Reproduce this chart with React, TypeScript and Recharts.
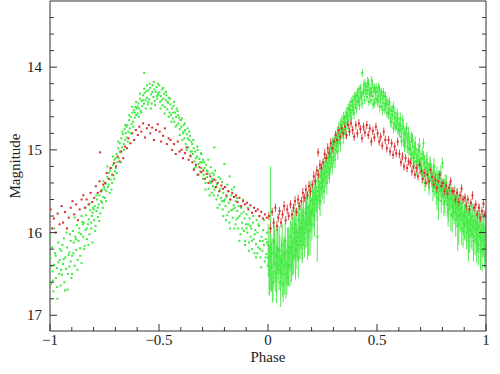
import { ScatterChart, Scatter, XAxis, YAxis, ErrorBar } from "recharts";

// tick positions
const xMajor = [-1, -0.5, 0, 0.5, 1];
const xMinor = [-0.9, -0.8, -0.7, -0.6, -0.4, -0.3, -0.2, -0.1, 0.1, 0.2, 0.3, 0.4, 0.6, 0.7, 0.8, 0.9];
const yMajor = [14, 15, 16, 17];
const yMinor = [13.4, 13.6, 13.8, 14.2, 14.4, 14.6, 14.8, 15.2, 15.4, 15.6, 15.8, 16.2, 16.4, 16.6, 16.8];

// green, phase -1..0 : [phase, mag]
const greenLeft = [
  [-0.998,16.31],[-0.995,16.62],[-0.991,16.18],[-0.988,16.47],[-0.984,16.71],[-0.981,16.39],[-0.977,16.25],[-0.973,16.55],[-0.969,16.43],[-0.966,16.8],[-0.962,16.12],[-0.958,16.5],[-0.955,16.33],[-0.952,16.64],
  [-0.948,16.22],[-0.945,16.51],[-0.941,16.38],[-0.937,16.07],[-0.934,16.6],[-0.93,16.3],[-0.926,16.44],[-0.922,16.18],[-0.919,16.69],[-0.915,16.27],[-0.911,16.41],[-0.908,16.02],[-0.905,16.35],[-0.902,16.55],
  [-0.898,16.28],[-0.895,15.98],[-0.891,16.12],[-0.887,16.4],[-0.884,16.05],[-0.88,16.21],[-0.877,15.91],[-0.873,16.33],[-0.869,16.1],[-0.866,15.95],[-0.862,16.19],[-0.858,16.02],[-0.855,16.37],[-0.852,15.87],
  [-0.848,16.05],[-0.845,15.88],[-0.841,16.16],[-0.837,15.97],[-0.834,15.79],[-0.83,16.08],[-0.826,15.9],[-0.822,15.84],[-0.819,16.02],[-0.815,15.73],[-0.811,15.95],[-0.808,15.8],[-0.805,16.12],[-0.802,15.7],
  [-0.798,15.85],[-0.795,15.68],[-0.791,15.92],[-0.787,15.74],[-0.784,15.6],[-0.78,15.81],[-0.777,15.66],[-0.773,15.55],[-0.769,15.77],[-0.766,15.62],[-0.762,15.48],[-0.758,15.7],[-0.755,15.57],[-0.752,15.45],
  [-0.748,15.58],[-0.745,15.41],[-0.741,15.5],[-0.737,15.33],[-0.734,15.45],[-0.73,15.28],[-0.726,15.52],[-0.722,15.36],[-0.719,15.22],[-0.715,15.4],[-0.711,15.18],[-0.708,15.31],[-0.705,15.12],[-0.702,15.26],
  [-0.698,15.22],[-0.695,15.05],[-0.691,15.15],[-0.687,14.98],[-0.684,15.1],[-0.68,14.92],[-0.677,15.03],[-0.673,14.86],[-0.669,14.97],[-0.666,14.81],[-0.662,14.93],[-0.658,14.75],[-0.655,14.88],[-0.652,14.8],
  [-0.648,14.85],[-0.645,14.7],[-0.641,14.78],[-0.637,14.64],[-0.634,14.74],[-0.63,14.6],[-0.626,14.69],[-0.622,14.55],[-0.619,14.66],[-0.615,14.52],[-0.611,14.61],[-0.608,14.48],[-0.605,14.58],[-0.602,14.5],
  [-0.598,14.56],[-0.595,14.44],[-0.591,14.5],[-0.587,14.38],[-0.584,14.53],[-0.58,14.41],[-0.577,14.47],[-0.573,14.34],[-0.569,14.44],[-0.566,14.31],[-0.562,14.4],[-0.558,14.29],[-0.555,14.37],[-0.552,14.45],
  [-0.548,14.28],[-0.545,14.39],[-0.541,14.25],[-0.537,14.33],[-0.534,14.44],[-0.53,14.22],[-0.526,14.36],[-0.522,14.27],[-0.519,14.41],[-0.515,14.3],[-0.511,14.24],[-0.508,14.38],[-0.505,14.32],[-0.502,14.34],[-0.568,14.07],
  [-0.498,14.3],[-0.495,14.42],[-0.491,14.35],[-0.487,14.27],[-0.484,14.46],[-0.48,14.38],[-0.477,14.32],[-0.473,14.48],[-0.469,14.4],[-0.466,14.34],[-0.462,14.51],[-0.458,14.43],[-0.455,14.37],[-0.452,14.55],
  [-0.448,14.45],[-0.445,14.58],[-0.441,14.5],[-0.437,14.62],[-0.434,14.47],[-0.43,14.66],[-0.426,14.55],[-0.422,14.6],[-0.419,14.7],[-0.415,14.53],[-0.411,14.68],[-0.408,14.61],[-0.405,14.75],[-0.402,14.64],
  [-0.398,14.72],[-0.395,14.62],[-0.391,14.8],[-0.387,14.7],[-0.384,14.86],[-0.38,14.76],[-0.377,14.93],[-0.373,14.81],[-0.369,14.74],[-0.366,14.97],[-0.362,14.88],[-0.358,14.83],[-0.355,15.02],[-0.352,14.9],
  [-0.348,14.93],[-0.345,15.05],[-0.341,14.98],[-0.337,15.14],[-0.334,15.02],[-0.33,15.2],[-0.326,15.08],[-0.322,15.0],[-0.319,15.17],[-0.315,15.11],[-0.311,15.26],[-0.308,15.04],[-0.305,15.22],[-0.302,15.15],
  [-0.298,15.12],[-0.295,15.3],[-0.291,15.22],[-0.287,15.4],[-0.284,15.18],[-0.28,15.33],[-0.277,15.26],[-0.273,15.47],[-0.269,15.29],[-0.266,15.38],[-0.262,15.21],[-0.258,15.52],[-0.255,15.35],[-0.252,15.44],
  [-0.248,15.3],[-0.245,15.48],[-0.241,15.37],[-0.237,15.6],[-0.234,15.42],[-0.23,15.55],[-0.226,15.33],[-0.222,15.66],[-0.219,15.47],[-0.215,15.58],[-0.211,15.39],[-0.208,15.72],[-0.205,15.52],[-0.202,15.62],[-0.246,14.97],
  [-0.198,15.45],[-0.195,15.68],[-0.191,15.57],[-0.187,15.79],[-0.184,15.5],[-0.18,15.64],[-0.177,15.88],[-0.173,15.6],[-0.169,15.73],[-0.166,15.48],[-0.162,15.82],[-0.158,15.67],[-0.155,15.95],[-0.152,15.7],[-0.2,15.17],[-0.176,15.32],
  [-0.148,15.62],[-0.145,15.84],[-0.141,15.74],[-0.137,15.95],[-0.134,15.68],[-0.13,15.8],[-0.126,16.02],[-0.122,15.77],[-0.119,15.88],[-0.115,15.6],[-0.111,15.98],[-0.108,15.83],[-0.105,16.1],[-0.102,15.9],
  [-0.098,15.78],[-0.095,16.0],[-0.091,15.9],[-0.087,16.12],[-0.084,15.83],[-0.08,16.05],[-0.077,15.95],[-0.073,16.2],[-0.069,15.88],[-0.066,16.08],[-0.062,16.25],[-0.058,15.97],[-0.055,16.14],[-0.052,15.85],
  [-0.048,16.0],[-0.045,16.18],[-0.041,15.92],[-0.037,16.1],[-0.034,16.3],[-0.03,16.05],[-0.026,16.22],[-0.022,15.97],[-0.019,16.15],[-0.015,16.35],[-0.011,16.08],[-0.008,16.26],[-0.005,16.12],[-0.002,16.4],
  // second pass, filling the band
  [-0.999,16.05],[-0.993,16.4],[-0.987,16.58],[-0.981,15.95],[-0.974,16.28],[-0.968,16.66],[-0.961,16.36],[-0.955,16.2],
  [-0.949,16.45],[-0.943,16.15],[-0.937,16.32],[-0.931,16.7],[-0.924,16.0],[-0.918,16.5],[-0.911,16.24],[-0.905,16.1],
  [-0.899,16.5],[-0.893,16.25],[-0.887,15.82],[-0.881,16.08],[-0.874,16.45],[-0.868,16.0],[-0.861,16.28],[-0.855,15.8],
  [-0.849,15.9],[-0.843,16.2],[-0.837,15.7],[-0.831,15.95],[-0.824,16.15],[-0.818,15.65],[-0.811,15.88],[-0.805,15.76],
  [-0.799,15.72],[-0.793,15.98],[-0.787,15.55],[-0.781,15.7],[-0.774,15.86],[-0.768,15.5],[-0.761,15.64],[-0.755,15.38],
  [-0.749,15.48],[-0.743,15.62],[-0.737,15.2],[-0.731,15.42],[-0.724,15.25],[-0.718,15.48],[-0.711,15.08],[-0.705,15.35],
  [-0.699,15.1],[-0.693,15.28],[-0.687,14.9],[-0.681,15.02],[-0.674,15.15],[-0.668,14.78],[-0.661,15.0],[-0.655,14.7],
  [-0.649,14.72],[-0.643,14.9],[-0.637,14.58],[-0.631,14.8],[-0.624,14.48],[-0.618,14.72],[-0.611,14.55],[-0.605,14.42],
  [-0.599,14.48],[-0.593,14.6],[-0.587,14.32],[-0.581,14.55],[-0.574,14.4],[-0.568,14.26],[-0.561,14.5],[-0.555,14.22],
  [-0.549,14.42],[-0.543,14.2],[-0.537,14.5],[-0.531,14.3],[-0.524,14.18],[-0.518,14.46],[-0.511,14.35],[-0.505,14.2],
  [-0.499,14.22],[-0.493,14.5],[-0.487,14.4],[-0.481,14.25],[-0.474,14.56],[-0.468,14.3],[-0.461,14.42],[-0.455,14.6],
  [-0.449,14.38],[-0.443,14.66],[-0.437,14.55],[-0.431,14.42],[-0.424,14.72],[-0.418,14.5],[-0.411,14.58],[-0.405,14.82],
  [-0.399,14.64],[-0.393,14.88],[-0.387,14.78],[-0.381,14.68],[-0.374,15.0],[-0.368,14.86],[-0.361,14.78],[-0.355,15.08],
  [-0.349,15.02],[-0.343,14.88],[-0.337,15.22],[-0.331,15.1],[-0.324,14.96],[-0.318,15.3],[-0.311,15.15],[-0.305,15.05],
  [-0.299,15.35],[-0.293,15.15],[-0.287,15.48],[-0.281,15.25],[-0.274,15.12],[-0.268,15.55],[-0.261,15.4],[-0.255,15.28],
  [-0.249,15.55],[-0.243,15.25],[-0.237,15.45],[-0.231,15.7],[-0.224,15.5],[-0.218,15.35],[-0.211,15.62],[-0.205,15.8],
  [-0.199,15.6],[-0.193,15.85],[-0.187,15.42],[-0.181,15.75],[-0.174,15.95],[-0.168,15.55],[-0.161,15.72],[-0.155,15.45],
  [-0.149,15.9],[-0.143,15.58],[-0.137,15.82],[-0.131,16.1],[-0.124,15.7],[-0.118,15.95],[-0.111,15.75],[-0.105,16.15],
  [-0.099,15.95],[-0.093,15.7],[-0.087,16.22],[-0.081,15.92],[-0.074,16.1],[-0.068,15.8],[-0.061,16.02],[-0.055,16.3],
  [-0.049,16.25],[-0.043,15.9],[-0.037,16.2],[-0.031,16.42],[-0.024,16.1],[-0.018,15.85],[-0.011,16.3],[-0.005,16.0],
];

// red, phase -1..0 : [phase, mag]
const redLeft = [
  [-0.997,15.72],[-0.99,15.95],[-0.982,15.83],[-0.974,16.0],[-0.965,15.77],[-0.956,15.9],
  [-0.947,15.68],[-0.94,15.88],[-0.931,15.75],[-0.922,15.95],[-0.914,15.82],[-0.905,15.7],
  [-0.897,15.62],[-0.889,15.78],[-0.88,15.66],[-0.872,15.85],[-0.864,15.72],[-0.855,15.6],
  [-0.847,15.55],[-0.84,15.7],[-0.832,15.6],[-0.823,15.66],[-0.814,15.52],[-0.806,15.63],
  [-0.797,15.58],[-0.79,15.44],[-0.781,15.52],[-0.773,15.38],[-0.765,15.5],[-0.756,15.42],[-0.77,15.03],
  [-0.747,15.4],[-0.74,15.28],[-0.731,15.35],[-0.723,15.22],[-0.714,15.3],[-0.706,15.16],
  [-0.697,15.2],[-0.69,15.08],[-0.681,15.14],[-0.673,15.02],[-0.664,15.1],[-0.656,14.96],
  [-0.647,14.98],[-0.64,14.86],[-0.631,14.92],[-0.623,14.8],[-0.614,14.88],[-0.606,14.76],
  [-0.597,14.82],[-0.59,14.72],[-0.581,14.78],[-0.573,14.68],[-0.564,14.85],[-0.556,14.74],
  [-0.547,14.7],[-0.54,14.8],[-0.531,14.73],[-0.523,14.88],[-0.514,14.76],[-0.506,14.69],
  [-0.497,14.78],[-0.49,14.9],[-0.481,14.83],[-0.473,14.74],[-0.464,14.93],[-0.456,14.86],
  [-0.447,14.88],[-0.44,15.0],[-0.431,14.93],[-0.423,15.05],[-0.414,14.9],[-0.406,15.02],
  [-0.397,15.0],[-0.39,15.1],[-0.381,15.04],[-0.373,14.97],[-0.364,15.12],[-0.356,15.07],
  [-0.347,15.15],[-0.34,15.24],[-0.331,15.18],[-0.323,15.3],[-0.314,15.21],[-0.306,15.27],
  [-0.297,15.25],[-0.29,15.35],[-0.281,15.29],[-0.273,15.4],[-0.264,15.32],[-0.256,15.38],
  [-0.247,15.36],[-0.24,15.45],[-0.231,15.4],[-0.223,15.5],[-0.214,15.43],[-0.206,15.47],
  [-0.197,15.45],[-0.19,15.55],[-0.181,15.5],[-0.173,15.6],[-0.164,15.52],[-0.156,15.57],
  [-0.147,15.55],[-0.14,15.63],[-0.131,15.58],[-0.123,15.68],[-0.114,15.62],[-0.106,15.66],
  [-0.097,15.64],[-0.09,15.72],[-0.081,15.67],[-0.073,15.76],[-0.064,15.7],[-0.056,15.74],
  [-0.047,15.72],[-0.04,15.8],[-0.031,15.75],[-0.023,15.83],[-0.014,15.78],[-0.006,15.82],
];

// green, phase 0..1 : [phase, mag, error]
const greenRight = [
  [0.002,16.3,0.22],[0.005,16.52,0.25],[0.009,16.18,0.2],[0.012,15.95,0.75],[0.016,16.42,0.3],[0.019,16.25,0.18],[0.023,16.6,0.22],[0.026,16.35,0.28],[0.03,16.12,0.2],[0.033,16.48,0.24],[0.037,16.28,0.32],[0.04,16.55,0.2],[0.044,16.2,0.26],[0.047,16.4,0.22],
  [0.051,16.45,0.25],[0.054,16.22,0.2],[0.058,16.6,0.3],[0.061,16.33,0.22],[0.065,16.15,0.25],[0.068,16.5,0.28],[0.072,16.28,0.2],[0.075,16.4,0.35],[0.079,16.1,0.22],[0.082,16.36,0.26],[0.086,16.55,0.2],[0.089,16.24,0.3],[0.093,16.42,0.22],[0.096,16.18,0.25],
  [0.101,16.25,0.22],[0.104,16.05,0.2],[0.108,16.35,0.25],[0.111,16.12,0.3],[0.115,15.95,0.18],[0.118,16.28,0.22],[0.122,16.08,0.26],[0.125,15.9,0.2],[0.129,16.2,0.24],[0.132,16.0,0.3],[0.136,16.15,0.2],[0.139,15.85,0.22],[0.143,16.05,0.28],[0.146,15.95,0.2],
  [0.151,16.1,0.22],[0.154,15.88,0.2],[0.158,16.02,0.3],[0.161,15.8,0.18],[0.165,15.95,0.25],[0.168,16.08,0.22],[0.172,15.76,0.2],[0.175,15.9,0.28],[0.179,15.7,0.2],[0.182,15.85,0.22],[0.186,15.98,0.3],[0.189,15.68,0.2],[0.193,15.82,0.45],[0.196,15.62,0.2],
  [0.201,15.78,0.2],[0.204,15.6,0.18],[0.208,15.72,0.22],[0.211,15.52,0.15],[0.215,15.66,0.2],[0.218,15.45,0.18],[0.222,15.6,0.16],[0.226,16.05,0.3],[0.229,15.5,0.2],[0.232,15.38,0.15],[0.236,15.55,0.18],[0.239,15.32,0.14],[0.243,15.47,0.2],[0.246,15.3,0.15],
  [0.251,15.45,0.15],[0.254,15.28,0.12],[0.258,15.38,0.15],[0.261,15.2,0.12],[0.265,15.33,0.14],[0.268,15.15,0.1],[0.272,15.27,0.12],[0.275,15.1,0.1],[0.279,15.22,0.14],[0.282,15.05,0.1],[0.286,15.16,0.12],[0.289,14.98,0.1],[0.293,15.1,0.12],[0.296,14.95,0.1],
  [0.301,15.08,0.1],[0.304,14.92,0.08],[0.308,15.0,0.1],[0.311,14.85,0.08],[0.315,14.95,0.1],[0.318,14.8,0.08],[0.322,14.9,0.1],[0.325,14.74,0.08],[0.329,14.84,0.1],[0.332,14.7,0.08],[0.336,14.79,0.08],[0.339,14.66,0.08],[0.343,14.74,0.08],[0.346,14.62,0.08],
  [0.351,14.74,0.08],[0.354,14.6,0.07],[0.358,14.68,0.08],[0.361,14.55,0.07],[0.365,14.63,0.08],[0.368,14.5,0.06],[0.372,14.59,0.08],[0.375,14.46,0.06],[0.379,14.55,0.07],[0.382,14.42,0.06],[0.386,14.52,0.07],[0.389,14.4,0.06],[0.393,14.48,0.07],[0.396,14.36,0.06],
  [0.401,14.45,0.06],[0.404,14.34,0.05],[0.408,14.42,0.06],[0.411,14.3,0.05],[0.415,14.4,0.06],[0.418,14.27,0.05],[0.422,14.37,0.06],[0.425,14.25,0.05],[0.429,14.35,0.06],[0.433,14.07,0.05],[0.436,14.31,0.05],[0.439,14.22,0.06],[0.443,14.4,0.05],[0.446,14.28,0.06],
  [0.451,14.24,0.05],[0.454,14.36,0.06],[0.458,14.28,0.05],[0.461,14.2,0.06],[0.465,14.33,0.05],[0.468,14.26,0.06],[0.472,14.4,0.05],[0.475,14.3,0.06],[0.479,14.22,0.05],[0.482,14.35,0.06],[0.486,14.28,0.05],[0.489,14.43,0.06],[0.493,14.31,0.05],[0.496,14.25,0.06],
  [0.501,14.3,0.05],[0.504,14.42,0.06],[0.508,14.35,0.05],[0.511,14.27,0.06],[0.515,14.4,0.05],[0.518,14.33,0.06],[0.522,14.47,0.05],[0.525,14.38,0.06],[0.529,14.3,0.05],[0.532,14.44,0.06],[0.536,14.52,0.05],[0.539,14.36,0.06],[0.543,14.45,0.05],[0.546,14.55,0.06],
  [0.551,14.45,0.06],[0.554,14.57,0.06],[0.558,14.5,0.07],[0.561,14.62,0.06],[0.565,14.53,0.06],[0.568,14.66,0.07],[0.572,14.58,0.06],[0.575,14.48,0.06],[0.579,14.68,0.07],[0.582,14.61,0.06],[0.586,14.72,0.06],[0.589,14.64,0.07],[0.593,14.56,0.06],[0.596,14.75,0.07],
  [0.601,14.68,0.07],[0.604,14.78,0.07],[0.608,14.71,0.06],[0.611,14.84,0.07],[0.615,14.75,0.07],[0.618,14.64,0.06],[0.622,14.88,0.08],[0.625,14.8,0.07],[0.629,14.92,0.07],[0.632,14.83,0.08],[0.636,14.74,0.07],[0.639,14.96,0.08],[0.643,14.87,0.07],[0.646,14.99,0.08],
  [0.651,14.9,0.08],[0.654,15.0,0.08],[0.658,14.85,0.07],[0.661,15.05,0.09],[0.665,14.96,0.08],[0.668,15.1,0.08],[0.672,15.02,0.09],[0.675,14.92,0.08],[0.679,15.14,0.09],[0.682,15.06,0.08],[0.686,15.18,0.09],[0.689,15.0,0.08],[0.693,15.12,0.09],[0.696,15.22,0.08],
  [0.701,15.1,0.09],[0.704,15.2,0.1],[0.708,15.05,0.08],[0.711,15.25,0.1],[0.713,14.92,0.06],[0.718,15.15,0.09],[0.722,15.3,0.1],[0.725,15.22,0.09],[0.729,15.12,0.1],[0.732,15.33,0.09],[0.736,15.25,0.1],[0.739,15.4,0.09],[0.743,15.18,0.1],[0.746,15.3,0.09],
  [0.751,15.26,0.1],[0.754,15.4,0.1],[0.758,15.32,0.12],[0.761,15.2,0.1],[0.765,15.45,0.12],[0.768,15.36,0.1],[0.772,15.52,0.15],[0.775,15.3,0.1],[0.779,15.42,0.12],[0.782,15.6,0.25],[0.786,15.38,0.1],[0.789,15.5,0.12],[0.793,15.28,0.1],[0.796,15.46,0.12],
  [0.8,15.16,0.07],[0.804,15.55,0.12],[0.808,15.45,0.1],[0.811,15.62,0.15],[0.815,15.5,0.12],[0.818,15.4,0.1],[0.822,15.66,0.15],[0.825,15.55,0.12],[0.829,15.72,0.15],[0.832,15.48,0.1],[0.836,15.6,0.12],[0.839,15.78,0.2],[0.843,15.58,0.12],[0.846,15.68,0.15],
  [0.851,15.62,0.12],[0.854,15.75,0.15],[0.858,15.66,0.12],[0.861,15.85,0.2],[0.865,15.7,0.15],[0.868,15.58,0.12],[0.872,15.8,0.15],[0.875,15.9,0.25],[0.879,15.72,0.12],[0.882,15.85,0.15],[0.886,15.65,0.12],[0.889,15.95,0.2],[0.893,15.78,0.15],[0.896,15.88,0.15],
  [0.901,15.8,0.15],[0.904,15.92,0.18],[0.908,15.75,0.15],[0.911,16.0,0.2],[0.915,15.86,0.15],[0.918,15.96,0.25],[0.922,15.78,0.15],[0.925,16.05,0.2],[0.929,15.9,0.15],[0.932,15.82,0.18],[0.936,16.02,0.2],[0.939,15.92,0.15],[0.943,16.1,0.25],[0.946,15.85,0.15],
  [0.951,15.95,0.18],[0.954,16.08,0.2],[0.958,15.88,0.15],[0.961,16.02,0.22],[0.965,16.15,0.25],[0.968,15.92,0.18],[0.972,16.05,0.2],[0.975,16.2,0.25],[0.979,15.98,0.18],[0.982,16.1,0.2],[0.986,15.9,0.18],[0.989,16.08,0.22],[0.993,16.18,0.25],[0.996,16.0,0.2],
  // second pass, filling the band
  [0.001,16.15,0.25],[0.007,16.45,0.3],[0.013,16.25,0.22],[0.02,16.65,0.2],[0.026,16.1,0.28],[0.032,16.38,0.22],[0.039,16.5,0.35],[0.045,16.3,0.2],
  [0.051,16.2,0.28],[0.057,16.48,0.22],[0.063,16.36,0.3],[0.07,16.62,0.22],[0.076,16.25,0.2],[0.082,16.5,0.3],[0.089,16.4,0.25],[0.095,16.3,0.35],
  [0.101,16.4,0.25],[0.107,16.18,0.3],[0.113,16.3,0.22],[0.12,16.0,0.28],[0.126,16.22,0.35],[0.132,16.1,0.2],[0.139,16.3,0.25],[0.145,16.0,0.22],
  [0.151,15.95,0.25],[0.157,16.15,0.22],[0.163,15.85,0.3],[0.17,16.0,0.2],[0.176,15.78,0.22],[0.182,16.05,0.28],[0.189,15.9,0.2],[0.195,15.75,0.25],
  [0.201,15.9,0.2],[0.207,15.65,0.18],[0.213,15.8,0.25],[0.22,15.55,0.2],[0.226,15.7,0.16],[0.232,15.45,0.2],[0.239,15.62,0.18],[0.245,15.4,0.15],
  [0.251,15.35,0.14],[0.257,15.5,0.15],[0.263,15.25,0.12],[0.27,15.4,0.14],[0.276,15.18,0.12],[0.282,15.3,0.1],[0.289,15.08,0.12],[0.295,15.2,0.1],
  [0.301,14.98,0.1],[0.307,15.12,0.1],[0.313,14.9,0.08],[0.32,15.02,0.1],[0.326,14.82,0.08],[0.332,14.92,0.1],[0.339,14.75,0.08],[0.345,14.85,0.08],
  [0.351,14.66,0.08],[0.357,14.8,0.07],[0.363,14.58,0.07],[0.37,14.7,0.08],[0.376,14.52,0.06],[0.382,14.62,0.07],[0.389,14.46,0.06],[0.395,14.56,0.07],
  [0.401,14.38,0.06],[0.407,14.5,0.06],[0.413,14.35,0.05],[0.42,14.46,0.06],[0.426,14.32,0.05],[0.432,14.44,0.06],[0.439,14.3,0.05],[0.445,14.2,0.06],
  [0.451,14.32,0.05],[0.457,14.18,0.06],[0.463,14.42,0.05],[0.47,14.3,0.06],[0.476,14.16,0.05],[0.482,14.45,0.06],[0.489,14.25,0.05],[0.495,14.38,0.06],
  [0.501,14.4,0.06],[0.507,14.24,0.05],[0.513,14.48,0.06],[0.52,14.3,0.05],[0.526,14.52,0.06],[0.532,14.35,0.05],[0.539,14.46,0.06],[0.545,14.4,0.05],
  [0.551,14.55,0.06],[0.557,14.42,0.06],[0.563,14.66,0.07],[0.57,14.52,0.06],[0.576,14.74,0.06],[0.582,14.55,0.07],[0.589,14.7,0.06],[0.595,14.62,0.07],
  [0.601,14.76,0.07],[0.607,14.62,0.07],[0.613,14.9,0.06],[0.62,14.72,0.07],[0.626,14.95,0.08],[0.632,14.78,0.07],[0.639,14.86,0.07],[0.645,14.8,0.08],
  [0.651,14.98,0.08],[0.657,15.1,0.08],[0.663,14.88,0.08],[0.67,15.15,0.09],[0.676,14.98,0.08],[0.682,15.22,0.09],[0.689,15.08,0.08],[0.695,14.95,0.09],
  [0.701,15.2,0.09],[0.707,15.32,0.1],[0.713,15.1,0.09],[0.72,15.4,0.1],[0.726,15.15,0.09],[0.732,15.25,0.1],[0.739,15.45,0.1],[0.745,15.2,0.09],
  [0.751,15.35,0.1],[0.757,15.5,0.12],[0.763,15.28,0.1],[0.77,15.42,0.12],[0.776,15.58,0.15],[0.782,15.35,0.1],[0.789,15.45,0.12],[0.795,15.62,0.15],
  [0.801,15.48,0.12],[0.807,15.65,0.15],[0.813,15.4,0.1],[0.82,15.55,0.12],[0.826,15.75,0.18],[0.832,15.6,0.12],[0.839,15.5,0.1],[0.845,15.8,0.2],
  [0.851,15.7,0.15],[0.857,15.55,0.12],[0.863,15.78,0.15],[0.87,15.92,0.3],[0.876,15.65,0.12],[0.882,15.78,0.18],[0.889,15.7,0.15],[0.895,15.98,0.2],
  [0.901,15.9,0.18],[0.907,15.7,0.15],[0.913,15.88,0.2],[0.92,16.1,0.25],[0.926,15.85,0.15],[0.932,15.98,0.2],[0.939,15.8,0.15],[0.945,16.05,0.22],
  [0.951,15.85,0.18],[0.957,16.12,0.25],[0.963,15.95,0.2],[0.97,15.8,0.15],[0.976,16.05,0.22],[0.982,16.22,0.25],[0.989,15.95,0.2],[0.995,16.12,0.22],
];

// red, phase 0..1 : [phase, mag, error]
const redRight = [
  [0.004,15.8,0.05],[0.011,15.95,0.06],[0.019,15.75,0.05],[0.026,15.88,0.06],[0.034,15.7,0.05],[0.041,15.92,0.06],[0.047,15.82,0.05],
  [0.053,15.74,0.05],[0.06,15.88,0.06],[0.067,15.78,0.05],[0.074,15.68,0.06],[0.081,15.85,0.05],[0.088,15.72,0.06],[0.095,15.8,0.05],
  [0.103,15.66,0.05],[0.11,15.78,0.06],[0.117,15.7,0.05],[0.124,15.62,0.06],[0.131,15.75,0.05],[0.138,15.6,0.06],[0.145,15.68,0.05],
  [0.153,15.62,0.05],[0.16,15.52,0.06],[0.167,15.58,0.05],[0.174,15.48,0.06],[0.181,15.55,0.05],[0.188,15.44,0.06],[0.195,15.5,0.05],
  [0.203,15.42,0.05],[0.21,15.32,0.06],[0.217,15.38,0.05],[0.224,15.25,0.06],[0.231,15.3,0.05],[0.238,15.18,0.06],[0.245,15.22,0.05],[0.23,15.03,0.05],
  [0.253,15.15,0.05],[0.26,15.05,0.06],[0.267,15.1,0.05],[0.274,14.98,0.06],[0.281,15.04,0.05],[0.288,14.92,0.06],[0.295,14.98,0.05],
  [0.303,14.9,0.05],[0.31,14.82,0.05],[0.317,14.88,0.05],[0.324,14.76,0.05],[0.331,14.84,0.05],[0.338,14.74,0.05],[0.345,14.8,0.05],
  [0.353,14.72,0.05],[0.36,14.82,0.05],[0.367,14.7,0.05],[0.374,14.78,0.05],[0.381,14.68,0.05],[0.388,14.76,0.05],[0.395,14.84,0.05],
  [0.403,14.7,0.05],[0.41,14.8,0.05],[0.417,14.68,0.05],[0.424,14.75,0.05],[0.431,14.86,0.05],[0.438,14.72,0.05],[0.445,14.79,0.05],
  [0.453,14.7,0.05],[0.46,14.82,0.05],[0.467,14.74,0.05],[0.474,14.9,0.05],[0.481,14.77,0.05],[0.488,14.85,0.05],[0.495,14.72,0.05],
  [0.503,14.8,0.05],[0.51,14.9,0.05],[0.517,14.84,0.05],[0.524,14.95,0.05],[0.531,14.78,0.05],[0.538,14.88,0.05],[0.545,14.98,0.05],
  [0.553,14.88,0.05],[0.56,15.02,0.05],[0.567,14.92,0.05],[0.574,15.06,0.05],[0.581,14.96,0.05],[0.588,15.04,0.05],[0.595,14.9,0.05],
  [0.603,15.05,0.05],[0.61,15.15,0.05],[0.617,15.08,0.05],[0.624,15.2,0.05],[0.631,15.1,0.05],[0.638,15.22,0.05],[0.645,15.14,0.05],
  [0.653,15.16,0.05],[0.66,15.26,0.05],[0.667,15.2,0.05],[0.674,15.3,0.05],[0.681,15.22,0.05],[0.688,15.32,0.05],[0.695,15.18,0.05],
  [0.703,15.26,0.05],[0.71,15.35,0.05],[0.717,15.28,0.05],[0.724,15.4,0.05],[0.731,15.3,0.05],[0.738,15.38,0.05],[0.745,15.24,0.05],
  [0.753,15.33,0.05],[0.76,15.42,0.05],[0.767,15.36,0.05],[0.774,15.46,0.05],[0.781,15.38,0.05],[0.788,15.3,0.05],[0.795,15.44,0.05],
  [0.803,15.4,0.05],[0.81,15.5,0.05],[0.817,15.43,0.05],[0.824,15.53,0.05],[0.831,15.46,0.05],[0.838,15.38,0.05],[0.845,15.5,0.05],
  [0.853,15.5,0.05],[0.86,15.6,0.05],[0.867,15.52,0.05],[0.874,15.63,0.05],[0.881,15.55,0.05],[0.888,15.47,0.05],[0.895,15.6,0.05],
  [0.903,15.58,0.05],[0.91,15.68,0.05],[0.917,15.6,0.05],[0.924,15.72,0.05],[0.931,15.64,0.05],[0.938,15.55,0.05],[0.945,15.7,0.05],
  [0.953,15.66,0.05],[0.96,15.78,0.05],[0.967,15.7,0.05],[0.974,15.82,0.05],[0.981,15.74,0.05],[0.988,15.65,0.05],[0.995,15.78,0.05],
];

const GREEN = "#3cec3c";
const RED = "#d82a2a";
const FRAME = "#333";
const FONT = "Liberation Serif";

const toPts = (arr: number[][]) => arr.map(([x, y, e]) => ({ x, y, e: e ?? 0 }));

const square = (color: string) => (p: any) => (
  <rect x={p.cx - 1} y={p.cy - 1} width={2} height={2} fill={color} />
);

const fmtPhase = (v: number) => (v < 0 ? "\u2212" + Math.abs(v) : String(v));

const textStyle = { fontSize: 15, fill: "#222", fontFamily: FONT };
const X_DOMAIN: [number, number] = [-1, 1];
const Y_DOMAIN: [number, number] = [13.2, 17.19];
const xTicks = [...xMajor, ...xMinor];
const yTicks = [...yMajor, ...yMinor];

// inward tick marks: long at major values, short elsewhere; labels on bottom / left only
const BottomTick = (p: any) => {
  const v = p.payload.value;
  const major = xMajor.includes(v);
  return (
    <g>
      <line x1={p.x} x2={p.x} y1={p.y} y2={p.y - (major ? 7 : 4)} stroke={FRAME} />
      {major && (
        <text x={p.x} y={p.y + 14} textAnchor="middle" {...textStyle}>{fmtPhase(v)}</text>
      )}
    </g>
  );
};
const TopTick = (p: any) => {
  const major = xMajor.includes(p.payload.value);
  return <line x1={p.x} x2={p.x} y1={p.y} y2={p.y + (major ? 7 : 4)} stroke={FRAME} />;
};
const LeftTick = (p: any) => {
  const v = p.payload.value;
  const major = yMajor.includes(v);
  return (
    <g>
      <line x1={p.x} x2={p.x + (major ? 7 : 4)} y1={p.y} y2={p.y} stroke={FRAME} />
      {major && (
        <text x={p.x - 8} y={p.y + 5} textAnchor="end" {...textStyle}>{v}</text>
      )}
    </g>
  );
};
const RightTick = (p: any) => {
  const major = yMajor.includes(p.payload.value);
  return <line x1={p.x} x2={p.x - (major ? 7 : 4)} y1={p.y} y2={p.y} stroke={FRAME} />;
};

export default function App() {
  return (
    <div style={{ position: "absolute", left: 0, top: 0, width: 500, height: 374, background: "#fff" }}>
      <ScatterChart width={500} height={374} margin={{ top: 0, right: 13, bottom: 42, left: 49 }}>
        <XAxis xAxisId="b" dataKey="x" type="number" domain={X_DOMAIN} allowDataOverflow ticks={xTicks} interval={0}
          height={1} tickSize={0} tickMargin={0} tickLine={false} tick={<BottomTick />} stroke={FRAME}
          label={{ value: "Phase", position: "bottom", offset: 19, style: textStyle }} />
        <XAxis xAxisId="t" orientation="top" type="number" domain={X_DOMAIN} allowDataOverflow ticks={xTicks} interval={0}
          height={1} tickSize={0} tickMargin={0} tickLine={false} tick={<TopTick />} stroke={FRAME} />
        <YAxis yAxisId="l" dataKey="y" type="number" domain={Y_DOMAIN} reversed allowDataOverflow ticks={yTicks} interval={0}
          width={1} tickSize={0} tickMargin={0} tickLine={false} tick={<LeftTick />} stroke={FRAME}
          label={{ value: "Magnitude", angle: -90, position: "left", offset: 34, style: { ...textStyle, textAnchor: "middle" } }} />
        <YAxis yAxisId="r" orientation="right" type="number" domain={Y_DOMAIN} reversed allowDataOverflow ticks={yTicks} interval={0}
          width={1} tickSize={0} tickMargin={0} tickLine={false} tick={<RightTick />} stroke={FRAME} />

        <Scatter xAxisId="b" yAxisId="l" data={toPts(greenLeft)} shape={square(GREEN)} isAnimationActive={false} />
        <Scatter xAxisId="b" yAxisId="l" data={toPts(greenRight)} shape={square(GREEN)} isAnimationActive={false}>
          <ErrorBar dataKey="e" direction="y" width={0} stroke="#55ea55" strokeWidth={1} isAnimationActive={false} />
        </Scatter>
        <Scatter xAxisId="b" yAxisId="l" data={toPts(redLeft)} shape={square(RED)} isAnimationActive={false} />
        <Scatter xAxisId="b" yAxisId="l" data={toPts(redRight)} shape={square(RED)} isAnimationActive={false}>
          <ErrorBar dataKey="e" direction="y" width={0} stroke="#e04a4a" strokeWidth={1} isAnimationActive={false} />
        </Scatter>
      </ScatterChart>
    </div>
  );
}
